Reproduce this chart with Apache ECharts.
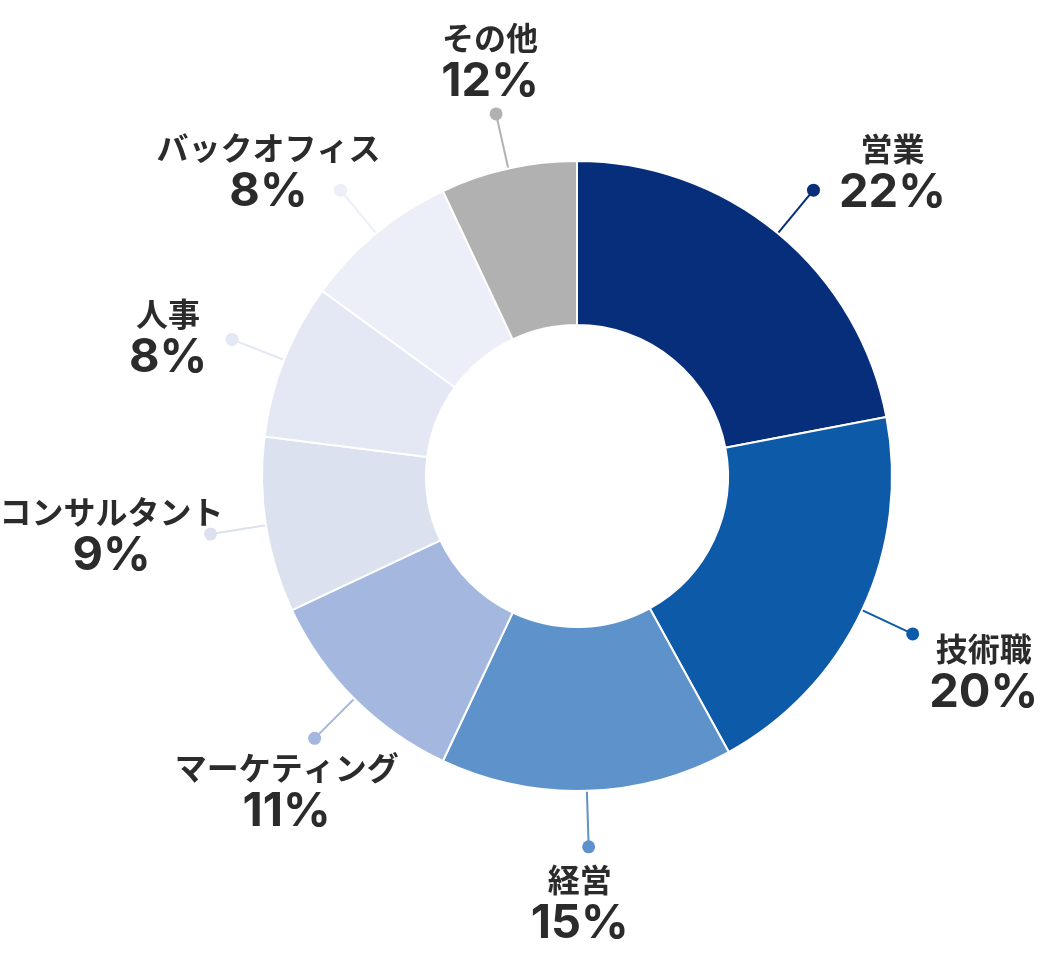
<!DOCTYPE html>
<html>
<head>
<meta charset="utf-8">
<script src="https://cdn.jsdelivr.net/npm/echarts@6/dist/echarts.min.js"></script>
<style>
html,body{margin:0;padding:0;background:#fff;}
#chart{width:1040px;height:960px;}
</style>
</head>
<body>
<div id="chart"></div>
<script>
// ---- data ----
const categories = ['営業', '技術職', '経営', 'マーケティング', 'コンサルタント', '人事', 'バックオフィス', 'その他'];
const sliceValues = [22, 20, 15, 11, 9, 8, 8, 7];
const percentLabels = [22, 20, 15, 11, 9, 8, 8, 12];

// ---- style / layout ----
const colors = ['#062e7b', '#0d5aa8', '#5e92cb', '#a4b8df', '#dce1f0', '#e4e7f4', '#eceef8', '#b1b1b1'];
const labelOffsets = [[79, -18], [71, 38], [-9, 56], [-28, 53], [-99, 1], [-64, -3], [-72, -19], [-6, -53]];
const CENTER = [577, 476];
const R_IN = 151, R_OUT = 315, R_DOT = 371;

const total = sliceValues.reduce((a, b) => a + b, 0);
let acc = 0;
const dotData = sliceValues.map((v, i) => {
  const mid = acc + v / 2;
  acc += v;
  return { value: [1, mid], itemStyle: { color: colors[i], opacity: 1 } };
});

const chart = echarts.init(document.getElementById('chart'), null, { renderer: 'canvas' });
chart.setOption({
  backgroundColor: '#ffffff',
  animation: false,
  polar: { center: CENTER, radius: R_DOT },
  angleAxis: {
    type: 'value', min: 0, max: total, startAngle: 90, clockwise: true,
    axisLine: { show: false }, axisTick: { show: false }, axisLabel: { show: false }, splitLine: { show: false }
  },
  radiusAxis: {
    type: 'value', min: 0, max: 1,
    axisLine: { show: false }, axisTick: { show: false }, axisLabel: { show: false }, splitLine: { show: false }
  },
  series: [
    {
      type: 'pie',
      center: CENTER,
      radius: [R_IN, R_OUT],
      startAngle: 90,
      clockwise: true,
      avoidLabelOverlap: false,
      itemStyle: { borderColor: '#ffffff', borderWidth: 2 },
      data: categories.map((c, i) => ({
        name: c, value: sliceValues[i], itemStyle: { color: colors[i] },
        labelLine: { lineStyle: { color: colors[i] } }
      })),
      label: {
        show: true,
        position: 'outside',
        formatter: (p) => '{n|' + p.name + '}\n{p|' + percentLabels[p.dataIndex] + '%}',
        rich: {
          n: { fontFamily: '"Noto Sans CJK JP", sans-serif', fontWeight: 700, fontSize: 32, color: '#2b2b2b', lineHeight: 42, align: 'center' },
          p: { fontFamily: 'Inter, "Noto Sans", sans-serif', fontWeight: 700, fontSize: 47, color: '#2b2b2b', lineHeight: 46, align: 'center' }
        }
      },
      labelLine: { show: true, length: R_DOT - R_OUT, length2: 0, lineStyle: { width: 2 } },
      labelLayout: function (params) {
        const pts = params.labelLinePoints;
        if (!pts) return {};
        const end = pts[1];
        const off = labelOffsets[params.dataIndex];
        return {
          x: end[0] + off[0],
          y: end[1] + off[1],
          align: 'center',
          verticalAlign: 'middle',
          labelLinePoints: [pts[0], pts[1]]
        };
      },
      emphasis: { disabled: true }
    },
    {
      type: 'scatter',
      coordinateSystem: 'polar',
      symbol: 'circle',
      symbolSize: 13,
      itemStyle: { opacity: 1 },
      data: dotData,
      z: 5,
      silent: true
    }
  ]
});
</script>
</body>
</html>
